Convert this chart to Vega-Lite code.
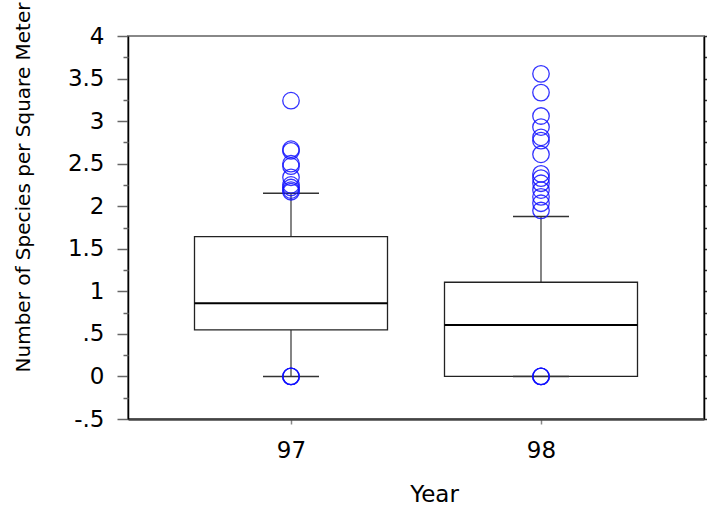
{
  "$schema": "https://vega.github.io/schema/vega-lite/v6.json",
  "autosize": "none",
  "width": 576,
  "height": 383,
  "padding": {"left": 128, "top": 36, "right": 3, "bottom": 89},
  "background": "white",
  "datasets": {
    "boxes": [
      {"year": "97", "lower": 0, "q1": 0.546, "median": 0.86, "q3": 1.643, "upper": 2.153},
      {"year": "98", "lower": 0, "q1": 0, "median": 0.605, "q3": 1.107, "upper": 1.878}
    ],
    "outliers": [
      {"year": "97", "value": 3.24},
      {"year": "97", "value": 2.67},
      {"year": "97", "value": 2.65},
      {"year": "97", "value": 2.5},
      {"year": "97", "value": 2.47},
      {"year": "97", "value": 2.34},
      {"year": "97", "value": 2.25},
      {"year": "97", "value": 2.22},
      {"year": "97", "value": 2.19},
      {"year": "97", "value": 2.17},
      {"year": "97", "value": 0},
      {"year": "97", "value": 0},
      {"year": "97", "value": 0},
      {"year": "98", "value": 3.555},
      {"year": "98", "value": 3.335},
      {"year": "98", "value": 3.06},
      {"year": "98", "value": 2.93},
      {"year": "98", "value": 2.81},
      {"year": "98", "value": 2.77},
      {"year": "98", "value": 2.61},
      {"year": "98", "value": 2.38},
      {"year": "98", "value": 2.33},
      {"year": "98", "value": 2.27},
      {"year": "98", "value": 2.19},
      {"year": "98", "value": 2.11},
      {"year": "98", "value": 2.035},
      {"year": "98", "value": 1.95},
      {"year": "98", "value": 0},
      {"year": "98", "value": 0},
      {"year": "98", "value": 0}
    ]
  },
  "encoding": {
    "x": {
      "field": "year",
      "type": "ordinal",
      "scale": {"type": "point", "padding": 0.652, "domain": ["97", "98"]},
      "axis": {
        "orient": "bottom",
        "labelAngle": 0,
        "labelFontSize": 23,
        "domainColor": "#444",
        "domainWidth": 2.5,
        "tickSize": 5,
        "tickColor": "#888",
        "tickWidth": 1.5,
        "labelPadding": 15,
        "title": "Year",
        "titleFontSize": 23,
        "titleX": 306,
        "titleAnchor": "middle",
        "titlePadding": 21
      }
    }
  },
  "layer": [
    {
      "data": {"name": "boxes"},
      "mark": {"type": "rule", "color": "#999", "strokeWidth": 1},
      "encoding": {
        "y": {
          "datum": 0,
          "type": "quantitative",
          "scale": {"domain": [-0.5, 4], "nice": false, "zero": false},
          "axis": {
            "orient": "left",
            "values": [-0.5, 0, 0.5, 1, 1.5, 2, 2.5, 3, 3.5, 4],
            "labelExpr": "datum.value == 0.5 ? '.5' : (datum.value == -0.5 ? '-.5' : '' + datum.value)",
            "labelFontSize": 23,
            "tickSize": 11,
            "tickColor": "#666",
            "tickWidth": 1.5,
            "labelPadding": 13,
            "domainColor": "#000",
            "domainWidth": 1.5,
            "title": "Number of Species per Square Meter",
            "titleFontSize": 20,
            "titleX": -105,
            "titleY": 151,
            "titleAngle": -90,
            "titleAlign": "center",
            "titleBaseline": "middle"
          }
        }
      }
    },
    {
      "data": {"name": "boxes"},
      "mark": {"type": "rule", "color": "#333", "strokeWidth": 1.2},
      "encoding": {
        "y": {
          "field": "q3",
          "type": "quantitative",
          "scale": {"domain": [-0.5, 4], "nice": false, "zero": false},
          "axis": {
            "orient": "left",
            "values": [-0.25, 0.25, 0.75, 1.25, 1.75, 2.25, 2.75, 3.25, 3.75],
            "tickSize": 5,
            "tickColor": "#666",
            "tickWidth": 1.5,
            "labels": false,
            "domain": false,
            "title": null
          }
        },
        "y2": {"field": "upper"}
      }
    },
    {
      "data": {"name": "boxes"},
      "mark": {"type": "rule", "color": "#333", "strokeWidth": 1.2},
      "encoding": {
        "y": {
          "field": "lower",
          "type": "quantitative",
          "scale": {"domain": [-0.5, 4], "nice": false, "zero": false},
          "axis": {
            "orient": "right",
            "values": [-0.5, -0.25, 0, 0.25, 0.5, 0.75, 1, 1.25, 1.5, 1.75, 2, 2.25, 2.5, 2.75, 3, 3.25, 3.5, 3.75, 4],
            "tickSize": 5,
            "tickColor": "#333",
            "tickWidth": 1.5,
            "labels": false,
            "domainColor": "#000",
            "domainWidth": 1.5,
            "title": null
          }
        },
        "y2": {"field": "q1"}
      }
    },
    {
      "data": {"name": "boxes"},
      "mark": {"type": "bar", "fill": "white", "stroke": "#222", "strokeWidth": 1.3, "size": 193},
      "encoding": {
        "y": {"field": "q1", "type": "quantitative", "scale": {"domain": [-0.5, 4], "nice": false, "zero": false}, "axis": null},
        "y2": {"field": "q3"}
      }
    },
    {
      "data": {"name": "boxes"},
      "mark": {"type": "tick", "color": "#000", "size": 193, "thickness": 2, "opacity": 1},
      "encoding": {
        "y": {"field": "median", "type": "quantitative", "scale": {"domain": [-0.5, 4], "nice": false, "zero": false}, "axis": null}
      }
    },
    {
      "data": {"name": "boxes"},
      "mark": {"type": "tick", "color": "#333", "size": 56, "thickness": 1.5, "opacity": 1},
      "encoding": {
        "y": {"field": "upper", "type": "quantitative", "scale": {"domain": [-0.5, 4], "nice": false, "zero": false}, "axis": null}
      }
    },
    {
      "data": {"name": "boxes"},
      "mark": {"type": "tick", "color": "#333", "size": 56, "thickness": 1.5, "opacity": 1},
      "encoding": {
        "y": {"field": "lower", "type": "quantitative", "scale": {"domain": [-0.5, 4], "nice": false, "zero": false}, "axis": null}
      }
    },
    {
      "data": {"name": "outliers"},
      "mark": {"type": "point", "shape": "circle", "filled": false, "stroke": "#1010ff", "strokeWidth": 1.3, "size": 272, "opacity": 0.85},
      "encoding": {
        "y": {"field": "value", "type": "quantitative", "scale": {"domain": [-0.5, 4], "nice": false, "zero": false}, "axis": null}
      }
    }
  ],
  "resolve": {"axis": {"y": "independent"}},
  "config": {
    "view": {"stroke": "#888", "strokeWidth": 2},
    "axis": {
      "labelFont": "DejaVu Sans",
      "titleFont": "DejaVu Sans",
      "labelFontSize": 20,
      "titleFontSize": 20,
      "titleFontWeight": "normal",
      "labelColor": "#000",
      "titleColor": "#000",
      "grid": false
    }
  }
}
